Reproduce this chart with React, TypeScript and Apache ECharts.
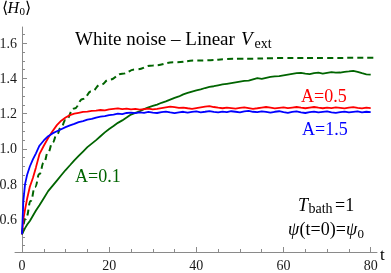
import React, { useEffect, useRef } from "react";
import * as echarts from "echarts";

const times = [0, 0.3, 0.7, 1.2, 1.8, 2.5, 3.2, 4, 5, 6, 7, 8, 9, 10, 11, 12, 13, 14, 15, 16, 17, 18, 19, 20,
  21, 22, 23, 24, 25, 26, 27, 28, 29, 30, 31, 32, 33, 34, 35, 36, 37, 38, 39, 40, 41, 42, 43, 44, 45, 46, 47,
  48, 49, 50, 51, 52, 53, 54, 55, 56, 57, 58, 59, 60, 61, 62, 63, 64, 65, 66, 67, 68, 69, 70, 71, 72, 73, 74,
  75, 76, 77, 78, 79, 80];

const blueA15 = [0.515, 0.70, 0.80, 0.855, 0.90, 0.94, 0.975,
  1.018, 1.048, 1.072, 1.088, 1.100, 1.112, 1.124, 1.134, 1.142, 1.152, 1.158, 1.166, 1.170, 1.178, 1.183, 1.186,
  1.192, 1.195, 1.200, 1.198, 1.204, 1.206, 1.203, 1.208, 1.205, 1.210, 1.206,
  1.204, 1.209, 1.212, 1.207, 1.203, 1.208, 1.211, 1.206, 1.210, 1.213, 1.208, 1.211, 1.215, 1.210, 1.207,
  1.212, 1.209, 1.214, 1.211, 1.208, 1.213, 1.216, 1.211, 1.209, 1.213, 1.210, 1.206, 1.211, 1.214, 1.209,
  1.205, 1.210, 1.213, 1.208, 1.204, 1.209, 1.212, 1.207, 1.210, 1.213, 1.208, 1.205, 1.209, 1.212, 1.207,
  1.210, 1.213, 1.208, 1.211, 1.209];

const redA05 = [0.515, 0.60, 0.655, 0.72, 0.785, 0.835, 0.895,
  0.97, 1.018, 1.062, 1.10, 1.135, 1.16, 1.178, 1.192, 1.20, 1.205, 1.21, 1.212, 1.216, 1.218, 1.221, 1.219,
  1.224, 1.227, 1.23, 1.226, 1.229, 1.224, 1.227, 1.223, 1.226, 1.229, 1.225,
  1.228, 1.232, 1.236, 1.240, 1.237, 1.233, 1.235, 1.231, 1.228, 1.232, 1.236, 1.240, 1.243, 1.238, 1.234,
  1.231, 1.235, 1.232, 1.229, 1.233, 1.236, 1.232, 1.228, 1.231, 1.235, 1.238, 1.234, 1.230, 1.233, 1.236,
  1.232, 1.235, 1.238, 1.234, 1.231, 1.235, 1.238, 1.234, 1.231, 1.235, 1.232, 1.236, 1.233, 1.230, 1.234,
  1.237, 1.233, 1.230, 1.234, 1.232];

const greenA01 = [0.515, 0.53, 0.55, 0.57, 0.59, 0.62, 0.65,
  0.68, 0.72, 0.76, 0.79, 0.82, 0.85, 0.88, 0.907, 0.935, 0.96, 0.985, 1.01, 1.03, 1.05, 1.072, 1.094,
  1.113, 1.13, 1.148, 1.162, 1.178, 1.195, 1.205, 1.214, 1.226, 1.236, 1.244,
  1.252, 1.262, 1.27, 1.28, 1.29, 1.298, 1.31, 1.318, 1.326, 1.332, 1.338, 1.346, 1.352, 1.356, 1.361,
  1.366, 1.37, 1.374, 1.378, 1.382, 1.386, 1.388, 1.395, 1.402, 1.398, 1.404, 1.409, 1.412, 1.414, 1.418,
  1.422, 1.426, 1.43, 1.432, 1.428, 1.425, 1.43, 1.433, 1.428, 1.432, 1.436, 1.433, 1.434, 1.438, 1.44,
  1.443, 1.438, 1.43, 1.424, 1.422];

const dashTimes = [0, 1, 2, 3, 4, 5, 6, 7, 8, 9, 10, 12, 14, 16, 18, 20, 23, 26, 30, 35, 40, 50, 60, 70, 81.4];
const dashValues = [0.515, 0.614, 0.704, 0.784, 0.857, 0.922, 0.981, 1.035, 1.082, 1.125, 1.164, 1.23, 1.284,
  1.328, 1.364, 1.393, 1.427, 1.451, 1.474, 1.492, 1.502, 1.512, 1.516, 1.517, 1.518];

const xMajorTicks = [0, 20, 40, 60, 80];
const xMinorTicks = [5, 10, 15, 25, 30, 35, 45, 50, 55, 65, 70, 75];
const yMajorTicks = [0.6, 0.8, 1.0, 1.2, 1.4, 1.6];
const yMinorTicks = [0.45, 0.5, 0.55, 0.65, 0.7, 0.75, 0.85, 0.9, 0.95, 1.05, 1.1, 1.15, 1.25, 1.3, 1.35, 1.45, 1.5, 1.55, 1.65];

const GREEN = "#006400";
const RED = "#ff0000";
const BLUE = "#0000ff";
const AXIS = "#8a8a8a";
const SERIF = "'Liberation Serif', 'DejaVu Serif', serif";

const pairs = (xs: number[], ys: number[]) => xs.map((x, i) => [x, ys[i]]);

function txt(text: string, x: number, y: number, size: number, color = "#000", italic = false) {
  return {
    type: "text",
    x,
    y,
    silent: true,
    style: {
      text,
      fill: color,
      font: `${italic ? "italic " : ""}${size}px ${SERIF}`,
      textAlign: "left",
      textVerticalAlign: "middle",
      verticalAlign: "middle",
    },
  };
}

export default function App() {
  const ref = useRef<HTMLDivElement>(null);
  useEffect(() => {
    if (!ref.current) return;
    const chart = echarts.init(ref.current, undefined, { renderer: "svg" });
    const xCommon = {
      type: "value",
      min: -1.606,
      max: 81.445,
      position: "bottom",
      splitLine: { show: false },
    };
    const yCommon = {
      type: "value",
      min: 0.4142,
      max: 1.6926,
      position: "left",
      offset: -7,
      splitLine: { show: false },
    };
    chart.setOption({
      animation: false,
      grid: { left: 15, right: 14, top: 27, bottom: 21, containLabel: false, outerBoundsMode: "none" },
      xAxis: [
        {
          ...xCommon,
          axisLine: { show: true, onZero: false, lineStyle: { color: AXIS, width: 1 } },
          axisTick: { show: true, inside: true, length: 5, customValues: xMajorTicks, lineStyle: { color: AXIS } },
          axisLabel: {
            show: true, customValues: xMajorTicks, margin: 6, color: "#1a1a1a",
            fontFamily: SERIF, fontSize: 14,
          },
        },
        {
          ...xCommon,
          axisLine: { show: true, onZero: false, lineStyle: { color: AXIS, opacity: 0 } },
          axisTick: { show: true, inside: true, length: 3, customValues: xMinorTicks, lineStyle: { color: AXIS } },
          axisLabel: { show: false },
        },
      ],
      yAxis: [
        {
          ...yCommon,
          axisLine: { show: true, onZero: false, lineStyle: { color: AXIS, width: 1 } },
          axisTick: { show: true, inside: true, length: 5, customValues: yMajorTicks, lineStyle: { color: AXIS } },
          axisLabel: {
            show: true, customValues: yMajorTicks, margin: 5, color: "#1a1a1a",
            fontFamily: SERIF, fontSize: 14, formatter: (v: number) => v.toFixed(1),
          },
        },
        {
          ...yCommon,
          axisLine: { show: true, onZero: false, lineStyle: { color: AXIS, opacity: 0 } },
          axisTick: { show: true, inside: true, length: 3, customValues: yMinorTicks, lineStyle: { color: AXIS } },
          axisLabel: { show: false },
        },
      ],
      series: [
        {
          type: "line", xAxisIndex: 0, yAxisIndex: 0, data: pairs(times, greenA01), showSymbol: false,
          lineStyle: { color: GREEN, width: 1.8 }, silent: true,
        },
        {
          type: "line", xAxisIndex: 0, yAxisIndex: 0, data: pairs(dashTimes, dashValues), showSymbol: false,
          smooth: true, smoothMonotone: "x",
          lineStyle: { color: GREEN, width: 2, type: [6, 4] }, silent: true,
        },
        {
          type: "line", xAxisIndex: 0, yAxisIndex: 0, data: pairs(times, redA05), showSymbol: false,
          lineStyle: { color: RED, width: 1.8 }, silent: true,
        },
        {
          type: "line", xAxisIndex: 0, yAxisIndex: 0, data: pairs(times, blueA15), showSymbol: false,
          lineStyle: { color: BLUE, width: 1.8 }, silent: true,
        },
      ],
      graphic: [
        txt("White noise \u2013 Linear", 75, 38, 19),
        txt("V", 241, 38, 19, "#000", true),
        txt("ext", 254.5, 43, 14),
        txt("A=0.5", 301, 96, 18, RED),
        txt("A=1.5", 302, 129, 18, BLUE),
        txt("A=0.1", 75, 176, 18, GREEN),
        txt("T", 298, 204.5, 18, "#000", true),
        txt("bath", 308.5, 208.5, 14),
        txt("=1", 335, 204.5, 18),
        txt("\u03c8", 288, 229, 18, "#000", true),
        txt("(t=0)=", 299.5, 229, 18),
        txt("\u03c8", 346, 229, 18, "#000", true),
        txt("0", 357.5, 233.5, 13),
        txt("\u27e8", 2, 7, 16),
        txt("H", 7.5, 7, 16, "#000", true),
        txt("0", 19.5, 11, 11),
        txt("\u27e9", 25, 7, 16),
        txt("t", 380, 254, 17),
      ],
    });
    return () => chart.dispose();
  }, []);
  return <div ref={ref} style={{ position: "fixed", left: 0, top: 0, width: 391, height: 273 }} />;
}
